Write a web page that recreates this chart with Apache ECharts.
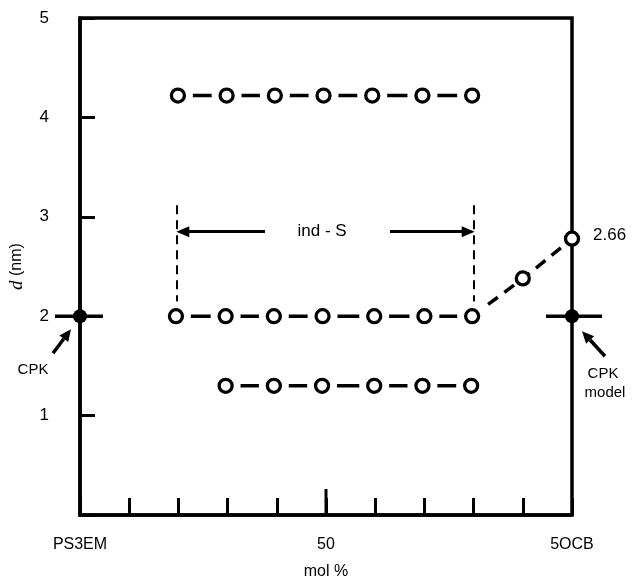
<!DOCTYPE html>
<html>
<head>
<meta charset="UTF-8">
<title>Layer spacing d (nm) vs mol %</title>
<script src="https://cdn.jsdelivr.net/npm/echarts@6.0.0/dist/echarts.min.js"></script>
<style>
    html, body { margin: 0; padding: 0; background: #fff; }
    #chart { width: 644px; height: 581px; }
</style>
</head>
<body>
<div id="chart"></div>
<script>
// values (x in mol %, y in nm)
var topRowX = [19.9, 29.8, 39.6, 49.5, 59.4, 69.6, 79.7];
var topRowY = [4.22, 4.22, 4.22, 4.22, 4.22, 4.22, 4.22];
var midRowX = [19.5, 29.6, 39.4, 49.3, 59.8, 70.0, 79.7];
var midRowY = [2.0, 2.0, 2.0, 2.0, 2.0, 2.0, 2.0];
var lowRowX = [29.6, 39.4, 49.2, 59.8, 69.6, 79.5];
var lowRowY = [1.3, 1.3, 1.3, 1.3, 1.3, 1.3];
var curveX = [79.7, 90.0, 100];
var curveY = [2.0, 2.38, 2.78];
var cpkX = [0, 100];
var cpkY = [2, 2];
var xTickLabels = { 0: 'PS3EM', 50: '50', 100: '5OCB' };

// ind-S bracket
var indSX = [19.7, 80.1];
var indSY = [2.12, 3.14];
var indSArrowY = 2.85;
var indSArrowTail = [37.6, 63.0];

var FONT = 'Liberation Sans';

function zip(xs, ys) {
    return xs.map(function (x, i) { return [x, ys[i]]; });
}

var chart = echarts.init(document.getElementById('chart'), null, { renderer: 'canvas' });

function rowMask(name, xs, ys) {
    // solid line with big white symbols -> dashes between the circles
    return {
        name: name,
        type: 'line',
        z: 5,
        data: zip(xs, ys),
        symbol: 'circle',
        symbolSize: 30,
        showSymbol: true,
        clip: false,
        itemStyle: { color: '#fff', borderWidth: 0 },
        lineStyle: { color: '#000', width: 3.5 },
        silent: true
    };
}

var circles = zip(topRowX, topRowY)
    .concat(zip(midRowX, midRowY))
    .concat(zip(lowRowX, lowRowY))
    .concat(zip(curveX.slice(1), curveY.slice(1)));

var option = {
    animation: false,
    backgroundColor: '#fff',
    grid: {
        left: 80, right: 72, top: 18, bottom: 66,
        outerBoundsMode: 'none',
        show: true, borderColor: '#000', borderWidth: 3.5
    },
    xAxis: {
        type: 'value',
        min: 0, max: 100, interval: 10,
        name: 'mol %',
        nameLocation: 'middle',
        nameGap: 49,
        nameTextStyle: { fontFamily: FONT, fontSize: 16, color: '#000' },
        axisLine: { show: true, lineStyle: { color: '#000', width: 3.5 } },
        axisTick: { show: true, inside: true, length: 17, lineStyle: { color: '#000', width: 3 } },
        axisLabel: {
            margin: 22,
            fontFamily: FONT, fontSize: 16, color: '#000',
            formatter: function (v) { return xTickLabels[v] || ''; }
        },
        splitLine: { show: false }
    },
    yAxis: {
        type: 'value',
        min: 0, max: 5, interval: 1,
        name: '{it|d} (nm)',
        nameLocation: 'middle',
        nameGap: 54,
        nameRotate: 90,
        nameTextStyle: {
            fontFamily: FONT, fontSize: 16, color: '#000',
            rich: { it: { fontFamily: 'Liberation Serif', fontStyle: 'italic', fontSize: 19, color: '#000' } }
        },
        axisLine: { show: true, lineStyle: { color: '#000', width: 3.5 } },
        axisTick: { show: true, inside: true, length: 15, lineStyle: { color: '#000', width: 3 } },
        axisLabel: {
            margin: 31,
            fontFamily: FONT, fontSize: 17, color: '#000',
            formatter: function (v) { return v === 0 ? '' : String(v); }
        },
        splitLine: { show: false }
    },
    series: [
        {
            name: 'ind-S',
            type: 'line',
            z: 2,
            data: [],
            silent: true,
            markLine: {
                silent: true,
                animation: false,
                label: { show: false },
                data: [
                    [
                        { coord: [indSX[0], indSY[0]], symbol: 'none', lineStyle: { type: [9, 6], width: 2, color: '#000' } },
                        { coord: [indSX[0], indSY[1]], symbol: 'none' }
                    ],
                    [
                        { coord: [indSX[1], indSY[0]], symbol: 'none', lineStyle: { type: [9, 6], width: 2, color: '#000' } },
                        { coord: [indSX[1], indSY[1]], symbol: 'none' }
                    ],
                    [
                        { coord: [indSArrowTail[0], indSArrowY], symbol: 'none', lineStyle: { type: 'solid', width: 3, color: '#000' } },
                        { coord: [indSX[0] + 1.2, indSArrowY], symbol: 'triangle', symbolSize: [11, 13] }
                    ],
                    [
                        { coord: [indSArrowTail[1], indSArrowY], symbol: 'none', lineStyle: { type: 'solid', width: 3, color: '#000' } },
                        { coord: [indSX[1] - 1.2, indSArrowY], symbol: 'triangle', symbolSize: [11, 13] }
                    ]
                ]
            },
            markPoint: {
                silent: true,
                symbol: 'circle',
                symbolSize: 0,
                label: {
                    show: true, position: 'inside',
                    fontFamily: FONT, fontSize: 17, color: '#000',
                    formatter: 'ind - S'
                },
                data: [{ coord: [49.2, indSArrowY] }]
            }
        },
        {
            name: 'curve',
            type: 'line',
            z: 3,
            data: zip(curveX, curveY),
            smooth: 0.3,
            symbol: 'none',
            clip: false,
            lineStyle: { color: '#000', width: 3.5, type: [12, 8] },
            silent: true
        },
        rowMask('top', topRowX, topRowY),
        rowMask('mid', midRowX, midRowY),
        rowMask('low', lowRowX, lowRowY),
        {
            name: 'points',
            type: 'scatter',
            z: 10,
            data: circles,
            symbol: 'circle',
            symbolSize: 13,
            clip: false,
            itemStyle: { color: '#fff', borderColor: '#000', borderWidth: 3.3, opacity: 1 },
            silent: true
        },
        {
            name: 'CPK',
            type: 'scatter',
            z: 11,
            data: zip(cpkX, cpkY),
            symbol: 'circle',
            symbolSize: 14,
            clip: false,
            itemStyle: { color: '#000', opacity: 1 },
            silent: true
        }
    ]
};

chart.setOption(option);

function arrow(x1, y1, x2, y2) {
    // shaft from (x1,y1) to head at (x2,y2)
    var ang = Math.atan2(y2 - y1, x2 - x1);
    var len = 12, half = 5.5;
    var bx = x2 - len * Math.cos(ang), by = y2 - len * Math.sin(ang);
    var nx = -Math.sin(ang), ny = Math.cos(ang);
    return [
        { type: 'line', shape: { x1: x1, y1: y1, x2: bx, y2: by }, style: { stroke: '#000', lineWidth: 3.5 } },
        { type: 'polygon', shape: { points: [[x2, y2], [bx + nx * half, by + ny * half], [bx - nx * half, by - ny * half]] }, style: { fill: '#000' } }
    ];
}

function txt(x, y, s, align, size) {
    return {
        type: 'text', x: x, y: y,
        style: { text: s, fill: '#000', font: (size || 15) + 'px "' + FONT + '"', textAlign: align || 'center', textVerticalAlign: 'middle' }
    };
}

var pL = chart.convertToPixel({ gridIndex: 0 }, [cpkX[0], cpkY[0]]);
var pR = chart.convertToPixel({ gridIndex: 0 }, [cpkX[1], cpkY[1]]);
var p50 = chart.convertToPixel({ gridIndex: 0 }, [50, 0]);
var pEnd = chart.convertToPixel({ gridIndex: 0 }, [curveX[2], curveY[2]]);

var els = [
    { type: 'line', shape: { x1: pL[0] - 25, y1: pL[1], x2: pL[0] + 23, y2: pL[1] }, style: { stroke: '#000', lineWidth: 3.5 } },
    { type: 'line', shape: { x1: pR[0] - 26, y1: pR[1], x2: pR[0] + 30, y2: pR[1] }, style: { stroke: '#000', lineWidth: 3.5 } },
    { type: 'line', shape: { x1: p50[0], y1: p50[1], x2: p50[0], y2: p50[1] - 26 }, style: { stroke: '#000', lineWidth: 3 } },
    txt(pL[0] - 47, pL[1] + 54, 'CPK'),
    txt(pR[0] + 31, pR[1] + 58, 'CPK'),
    txt(pR[0] + 33, pR[1] + 77, 'model'),
    txt(pEnd[0] + 21, pEnd[1] - 3, '2.66', 'left', 17)
]
    .concat(arrow(pL[0] - 27, pL[1] + 37, pL[0] - 9, pL[1] + 13))
    .concat(arrow(pR[0] + 33, pR[1] + 40, pR[0] + 10, pR[1] + 15));

els.forEach(function (e) { e.silent = true; e.z = 100; });
chart.setOption({ graphic: { elements: els } });
</script>
</body>
</html>
